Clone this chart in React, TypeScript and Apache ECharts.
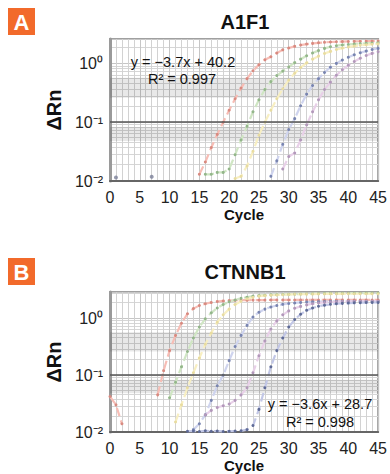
import React, { useEffect, useRef } from "react";
import * as echarts from "echarts";

// ---------- texts ----------
const panelLetters = ["A", "B"];
const geneTitles = ["A1F1", "CTNNB1"];
const equations = ["y = −3.7x + 40.2", "y = −3.6x + 28.7"];
const rSquared = ["R² = 0.997", "R² = 0.998"];
const yAxisName = "ΔRn";
const xAxisName = "Cycle";
const yTickLabels: Record<string, string> = { "-2": "10⁻²", "-1": "10⁻¹", "0": "10⁰" };

// ---------- axes ----------
const cycleMin = 0;
const cycleMax = 45;
const cycleStep = 5;
const yMin = 0.01;
const yMaxA = 2.6;
const yMaxB = 2.9;
const thresholdValue = 0.1;
const shadedBands = [
  [0.26, 0.57],
  [0.048, 0.083],
];

// ---------- Panel A (A1F1) : start cycle + ΔRn per cycle ----------
const redAStart = 15;
const redA = [0.013, 0.021, 0.037, 0.062, 0.1, 0.16, 0.25, 0.38, 0.55, 0.75, 0.95, 1.15, 1.3, 1.5, 1.7, 1.83, 1.95, 2.05, 2.13, 2.19, 2.24, 2.28, 2.31, 2.33, 2.35, 2.36, 2.37, 2.38, 2.39, 2.4, 2.4];
const greenAStart = 16;
const greenA = [0.013, 0.013, 0.014, 0.014, 0.016, 0.028, 0.05, 0.085, 0.15, 0.24, 0.36, 0.49, 0.62, 0.74, 0.87, 1.03, 1.18, 1.35, 1.5, 1.65, 1.8, 1.92, 2.0, 2.06, 2.1, 2.14, 2.17, 2.2, 2.22, 2.24];
const yellowAStart = 21;
const yellowA = [0.011, 0.012, 0.018, 0.032, 0.06, 0.1, 0.16, 0.25, 0.37, 0.52, 0.68, 0.85, 1.02, 1.18, 1.33, 1.47, 1.6, 1.72, 1.82, 1.9, 1.97, 2.03, 2.08, 2.12, 2.15];
const blueAStart = 27;
const blueA = [0.012, 0.022, 0.042, 0.075, 0.115, 0.19, 0.3, 0.42, 0.55, 0.7, 0.86, 1.0, 1.14, 1.27, 1.4, 1.52, 1.62, 1.72, 1.8];
const purpleAStart = 29;
const purpleA = [0.016, 0.026, 0.03, 0.05, 0.09, 0.15, 0.24, 0.36, 0.48, 0.63, 0.78, 0.93, 1.08, 1.22, 1.36, 1.48, 1.58];
const baselineA = [
  [1, 0.0115],
  [7, 0.0118],
];

// ---------- Panel B (CTNNB1) ----------
const redBStart = 0;
const redB = [0.042, 0.03, 0.014, null, null, null, null, null, 0.045, 0.12, 0.27, 0.5, 0.82, 1.2, 1.48, 1.68, 1.8, 1.9, 1.97, 2.02, 2.05, 2.07, 2.08, 2.08, 2.09, 2.09, 2.09, 2.1, 2.1, 2.1, 2.1, 2.1, 2.1, 2.1, 2.1, 2.1, 2.1, 2.1, 2.1, 2.1, 2.1, 2.1, 2.1, 2.1, 2.1, 2.1];
const greenBStart = 10;
const greenB = [0.04, 0.075, 0.14, 0.26, 0.45, 0.7, 0.98, 1.25, 1.52, 1.75, 1.95, 2.1, 2.25, 2.35, 2.45, 2.5, 2.55, 2.58, 2.6, 2.62, 2.64, 2.66, 2.68, 2.7, 2.7, 2.72, 2.72, 2.74, 2.74, 2.75, 2.75, 2.76, 2.76, 2.77, 2.77, 2.78];
const yellowBStart = 11;
const yellowB = [0.015, 0.03, 0.06, 0.11, 0.2, 0.35, 0.55, 0.85, 1.15, 1.45, 1.75, 2.0, 2.2, 2.35, 2.45, 2.5, 2.54, 2.57, 2.6, 2.62, 2.64, 2.65, 2.66, 2.67, 2.68, 2.68, 2.69, 2.69, 2.7, 2.7, 2.7, 2.7, 2.7, 2.7, 2.7];
const blueBStart = 14;
const blueB = [0.011, 0.014, 0.02, 0.036, 0.065, 0.1, 0.18, 0.32, 0.5, 0.75, 1.05, 1.28, 1.45, 1.58, 1.68, 1.76, 1.82, 1.86, 1.9, 1.93, 1.95, 1.96, 1.97, 1.98, 1.98, 1.99, 1.99, 2.0, 2.0, 2.0, 2.0, 2.0];
const pinkBStart = 16;
const pinkB = [0.02, 0.024, 0.027, 0.029, 0.031, 0.036, 0.045, 0.06, 0.11, 0.22, 0.4, 0.65, 0.9, 1.15, 1.35, 1.5, 1.62, 1.72, 1.8, 1.86, 1.9, 1.93, 1.95, 1.97, 1.98, 1.99, 2.0, 2.0, 2.0, 2.0];
const navyBStart = 13;
const navyB = [0.0103, 0.0104, 0.0102, 0.0105, 0.0103, 0.0104, 0.0102, 0.0103, 0.0104, 0.0105, 0.011, 0.013, 0.025, 0.06, 0.14, 0.27, 0.45, 0.7, 0.95, 1.18, 1.38, 1.52, 1.63, 1.7, 1.76, 1.8, 1.83, 1.85, 1.87, 1.88, 1.89, 1.9, 1.9];

// ---------- colours ----------
const C = {
  red: { line: "#f7bdb5", dot: "#d88a80" },
  green: { line: "#d0e6c4", dot: "#93b68a" },
  yellow: { line: "#f8efc2", dot: "#e8dca0" },
  blue: { line: "#cfd4ee", dot: "#7884b0" },
  purple: { line: "#e8d0e8", dot: "#b298ba" },
  navy: { line: "#c2c7e6", dot: "#5e6a96" },
};
const FONT = "Liberation Sans, Arial, Helvetica, sans-serif";
const ORANGE = "#f26a2b";

const toPairs = (start: number, values: (number | null)[]) =>
  values.map((v, i) => [start + i, v]);

function curve(name: string, start: number, values: (number | null)[], col: { line: string; dot: string }, gi: number, extra: any = {}) {
  return {
    name,
    type: "line",
    xAxisIndex: gi,
    yAxisIndex: gi,
    data: toPairs(start, values),
    symbol: "circle",
    symbolSize: 3,
    showSymbol: true,
    connectNulls: false,
    lineStyle: { color: col.line, width: 2.2, type: "dashed" },
    itemStyle: { color: col.dot },
    z: 3,
    ...extra,
  };
}

function decor(gi: number) {
  return {
    markLine: {
      silent: true,
      symbol: "none",
      label: { show: false },
      lineStyle: { color: "#555", width: 1.5, type: "solid" },
      data: [{ yAxis: thresholdValue }],
    },
    markArea: {
      silent: true,
      itemStyle: { color: "rgba(0,0,0,0.09)" },
      data: shadedBands.map((b) => [{ yAxis: b[0] }, { yAxis: b[1] }]),
    },
  };
}

const grids = [
  { left: 110, top: 39, width: 270, height: 142 },
  { left: 110, top: 292, width: 270, height: 141 },
];

function xAxisFor(gi: number) {
  return {
    type: "value",
    gridIndex: gi,
    min: cycleMin,
    max: cycleMax,
    interval: cycleStep,
    name: xAxisName,
    nameLocation: "middle",
    nameGap: 26,
    nameTextStyle: { fontFamily: FONT, fontSize: 15, fontWeight: "bold", color: "#111" },
    axisLine: { show: true, lineStyle: { color: "#666", width: 2 } },
    axisTick: { show: false },
    axisLabel: { fontFamily: FONT, fontSize: 16, color: "#222", margin: 8 },
    splitLine: { show: true, lineStyle: { color: "#c6c6c6", width: 1 } },
    minorTick: { show: false, splitNumber: 5 },
    minorSplitLine: { show: true, lineStyle: { color: "#d2d2d2", width: 1 } },
  };
}

function yAxisFor(gi: number, max: number) {
  return {
    type: "log",
    logBase: 10,
    gridIndex: gi,
    min: yMin,
    max,
    name: yAxisName,
    nameLocation: "middle",
    nameRotate: 90,
    nameGap: 36,
    nameTextStyle: { fontFamily: FONT, fontSize: 20, fontWeight: "bold", color: "#111" },
    axisLine: { show: true, lineStyle: { color: "#9a9a9a", width: 3 } },
    axisTick: { show: false },
    axisLabel: {
      fontFamily: FONT,
      fontSize: 16,
      color: "#222",
      margin: 7,
      showMaxLabel: false,
      formatter: (v: number) => {
        const l = Math.log10(v);
        if (Math.abs(l - Math.round(l)) > 1e-6) return "";
        return yTickLabels[String(Math.round(l))] ?? "";
      },
    },
    splitLine: { show: true, lineStyle: { color: "#c6c6c6", width: 1 } },
    minorTick: { show: false, splitNumber: 10 },
    minorSplitLine: { show: true, lineStyle: { color: "#d6d6d6", width: 1 } },
  };
}

function textEl(text: string, x: number, y: number, size: number, weight: string, color = "#111") {
  return {
    type: "text",
    x,
    y,
    z: 100,
    style: {
      text,
      fill: color,
      font: `${weight} ${size}px ${FONT}`,
      align: "center",
      verticalAlign: "middle",
      textAlign: "center",
      textVerticalAlign: "middle",
    },
  };
}

function letterBox(letter: string, x: number, y: number) {
  return [
    { type: "rect", shape: { x, y, width: 27, height: 27 }, style: { fill: ORANGE }, z: 100 },
    textEl(letter, x + 13.5, y + 14, 22, "bold", "#fff"),
  ];
}

export default function App() {
  const ref = useRef<HTMLDivElement>(null);
  useEffect(() => {
    if (!ref.current) return;
    const chart = echarts.init(ref.current, null, { renderer: "svg" });
    const option: any = {
      animation: false,
      backgroundColor: "#fff",
      grid: grids.map((g) => ({ ...g, show: true, borderColor: "#a0a0a0", borderWidth: 2, backgroundColor: "#fff" })),
      xAxis: [xAxisFor(0), xAxisFor(1)],
      yAxis: [yAxisFor(0, yMaxA), yAxisFor(1, yMaxB)],
      series: [
        curve("A red", redAStart, redA, C.red, 0, decor(0)),
        curve("A green", greenAStart, greenA, C.green, 0),
        curve("A yellow", yellowAStart, yellowA, C.yellow, 0),
        curve("A blue", blueAStart, blueA, C.blue, 0),
        curve("A purple", purpleAStart, purpleA, C.purple, 0),
        {
          name: "A baseline",
          type: "scatter",
          xAxisIndex: 0,
          yAxisIndex: 0,
          data: baselineA,
          symbolSize: 4,
          itemStyle: { color: "#7a7f98" },
          z: 3,
        },
        curve("B red", redBStart, redB, C.red, 1, decor(1)),
        curve("B green", greenBStart, greenB, C.green, 1),
        curve("B yellow", yellowBStart, yellowB, C.yellow, 1),
        curve("B blue", blueBStart, blueB, C.blue, 1),
        curve("B pink", pinkBStart, pinkB, C.purple, 1),
        curve("B navy", navyBStart, navyB, C.navy, 1),
      ],
      graphic: [
        ...letterBox(panelLetters[0], 8, 8),
        ...letterBox(panelLetters[1], 8, 258),
        textEl(geneTitles[0], 245, 22, 20, "bold"),
        textEl(geneTitles[1], 245, 272, 20, "bold"),
        textEl(equations[0], 183, 62, 14.5, "normal"),
        textEl(rSquared[0], 182, 79, 14.5, "normal"),
        textEl(equations[1], 320, 404, 14.5, "normal"),
        textEl(rSquared[1], 320, 422, 14.5, "normal"),
      ],
    };
    chart.setOption(option);
    return () => chart.dispose();
  }, []);
  return <div ref={ref} style={{ position: "absolute", left: 0, top: 0, width: 390, height: 474 }} />;
}
